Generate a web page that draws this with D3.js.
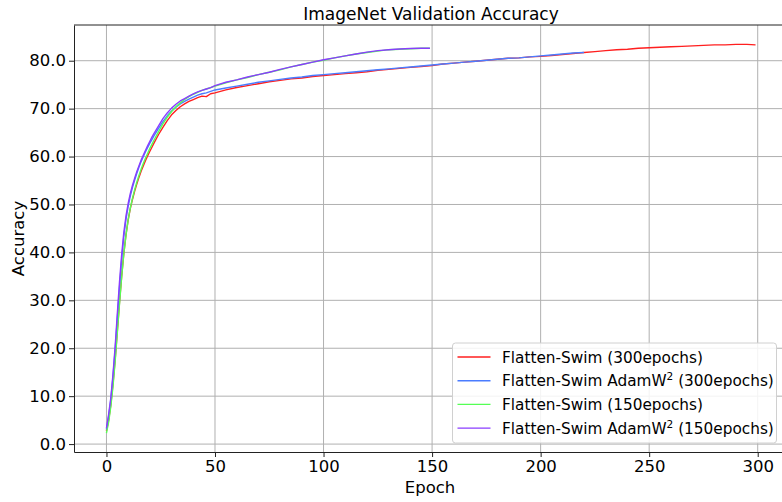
<!DOCTYPE html>
<html>
<head>
<meta charset="utf-8">
<script src="https://cdn.jsdelivr.net/npm/d3@7"></script>
<style>
  body { margin: 0; background: #fff; }
  svg { display: block; overflow: hidden; font-family: "DejaVu Sans", sans-serif; }
</style>
</head>
<body>
<div id="chart"></div>
<script>
const dense = [0,1,2,3,4,5,6,7,8,9,10,11,12,13,14,15,16,17,18,19,20,21,22,
  24,26,28,30,32,34,36,38,40,42,44,46,48,50];
const epochs300 = dense.concat([55,60,65,70,75,80,85,90,95,100,105,110,115,120,125,130,135,140,145,150,
  155,160,165,170,175,180,185,190,195,200,205,210,215,220,225,230,235,240,245,250,
  255,260,265,270,275,280,285,290,295,299]);
const epochsAdamW300 = dense.concat([55,60,65,70,75,80,85,90,95,100,105,110,115,120,125,130,135,140,145,150,
  155,160,165,170,175,180,185,190,195,200,205,210,215,220]);
const epochs150 = dense.concat([55,60,65,70,75,80,85,90,95,100,105,110,115,120,125,130,135,140,145,149]);

const swim300 = [2.7,5.0,8.2,12.5,17.6,23.5,29.5,35.0,39.8,43.7,46.8,49.2,51.1,52.8,54.3,55.7,57.0,58.1,59.2,60.2,61.1,62.0,62.9,
  64.6,66.1,67.5,68.7,69.6,70.4,71.0,71.5,71.9,72.3,72.6,72.5,73.1,73.3,
  73.9,74.4,74.8,75.2,75.6,75.9,76.2,76.4,76.7,76.9,
  77.1,77.3,77.5,77.7,78.0,78.2,78.4,78.6,78.8,79.0,
  79.3,79.5,79.7,79.9,80.1,80.3,80.5,80.6,80.8,80.9,
  81.1,81.3,81.5,81.7,81.9,82.1,82.3,82.4,82.6,82.7,
  82.8,82.9,83.0,83.1,83.2,83.3,83.3,83.4,83.4,83.3];
const adamw300 = [3.0,5.8,9.2,14.0,19.6,26.2,32.6,38.5,43.3,46.9,49.6,51.8,53.6,55.1,56.5,57.8,59.0,60.0,61.0,61.9,62.8,63.6,64.4,
  65.9,67.3,68.5,69.5,70.3,71.0,71.5,72.0,72.4,72.8,73.1,73.3,73.6,73.9,
  74.3,74.7,75.1,75.5,75.8,76.1,76.4,76.6,76.9,77.1,
  77.3,77.5,77.7,77.9,78.1,78.3,78.5,78.7,78.9,79.1,
  79.3,79.5,79.7,79.9,80.1,80.3,80.5,80.6,80.8,81.0,
  81.2,81.4,81.6,81.7];
const swim150 = [2.3,4.6,7.8,12.0,17.2,23.2,29.2,34.8,39.7,43.6,46.8,49.3,51.3,53.1,54.7,56.1,57.4,58.6,59.7,60.7,61.7,62.6,63.5,
  65.2,66.8,68.2,69.4,70.4,71.2,71.9,72.5,73.0,73.4,73.8,74.1,74.4,74.7,
  75.4,76.0,76.5,77.1,77.6,78.1,78.7,79.2,79.7,80.1,
  80.6,81.0,81.4,81.7,82.0,82.3,82.4,82.5,82.6,82.6];
const adamw150 = [3.3,6.2,9.6,14.5,20.3,27.2,33.8,39.5,44.2,47.6,50.2,52.3,54.0,55.5,56.9,58.1,59.3,60.3,61.3,62.3,63.2,64.1,64.9,
  66.4,67.9,69.1,70.1,70.9,71.6,72.1,72.6,73.1,73.5,73.8,74.1,74.4,74.8,
  75.5,76.0,76.6,77.1,77.6,78.2,78.7,79.2,79.7,80.2,
  80.6,81.0,81.4,81.8,82.1,82.3,82.45,82.55,82.6,82.6];

const xTicks = [0, 50, 100, 150, 200, 250, 300];
const yTicks = [0, 10, 20, 30, 40, 50, 60, 70, 80];

const series = [
  { name: "Flatten-Swim", sup: "", tail: " (300epochs)", x: epochs300, y: swim300, color: "#ff1f1f" },
  { name: "Flatten-Swim AdamW", sup: "2", tail: " (300epochs)", x: epochsAdamW300, y: adamw300, color: "#4a7cff" },
  { name: "Flatten-Swim", sup: "", tail: " (150epochs)", x: epochs150, y: swim150, color: "#55ff55" },
  { name: "Flatten-Swim AdamW", sup: "2", tail: " (150epochs)", x: epochs150, y: adamw150, color: "#8a3cff" }
];

const svgWidth = 782, svgHeight = 502;
const margin = { top: 25, left: 74 };
const width = 714, height = 427;   // right edge runs past the picture, as in the original

const svg = d3.select("#chart").append("svg")
  .attr("width", svgWidth)
  .attr("height", svgHeight);

const g = svg.append("g")
  .attr("transform", "translate(" + margin.left + "," + margin.top + ")");

const x = d3.scaleLinear().domain([-14.95, 313.95]).range([0, width]);
const y = d3.scaleLinear().domain([-1.65, 87.45]).range([height, 0]);

// grid
g.append("g").selectAll("line").data(xTicks).join("line")
  .attr("x1", d => x(d)).attr("x2", d => x(d))
  .attr("y1", 0).attr("y2", height)
  .attr("stroke", "#b0b0b0").attr("stroke-width", 1);
g.append("g").selectAll("line").data(yTicks).join("line")
  .attr("x1", 0).attr("x2", width)
  .attr("y1", d => y(d)).attr("y2", d => y(d))
  .attr("stroke", "#b0b0b0").attr("stroke-width", 1);

// curves
const line = d3.line()
  .x(d => x(d[0]))
  .y(d => y(d[1]));

series.forEach(s => {
  g.append("path")
    .datum(d3.zip(s.x, s.y))
    .attr("fill", "none")
    .attr("stroke", s.color)
    .attr("stroke-width", 1.4)
    .attr("stroke-linejoin", "round")
    .attr("d", line);
});

// axes
const xAxis = g.append("g")
  .attr("transform", "translate(0," + height + ")")
  .call(d3.axisBottom(x).tickValues(xTicks).tickSize(5).tickSizeOuter(0).tickPadding(3));
const yAxis = g.append("g")
  .call(d3.axisLeft(y).tickValues(yTicks).tickFormat(d3.format(".1f")).tickSize(5).tickSizeOuter(0).tickPadding(3));

[xAxis, yAxis].forEach(a => {
  a.selectAll("text").attr("font-family", "DejaVu Sans").attr("font-size", 16.5).attr("fill", "#000");
  a.selectAll("line").attr("stroke", "#222");
  a.select(".domain").attr("stroke", "#222");
});

// top and right spines
g.append("line").attr("x1", 0).attr("x2", width).attr("y1", 0).attr("y2", 0).attr("stroke", "#222");
g.append("line").attr("x1", width).attr("x2", width).attr("y1", 0).attr("y2", height).attr("stroke", "#222");

// labels
svg.append("text")
  .attr("x", margin.left + width / 2).attr("y", 20)
  .attr("text-anchor", "middle").attr("font-size", 17)
  .text("ImageNet Validation Accuracy");
svg.append("text")
  .attr("x", margin.left + width / 2 - 1).attr("y", 493)
  .attr("text-anchor", "middle").attr("font-size", 16.5)
  .text("Epoch");
svg.append("text")
  .attr("transform", "translate(24," + (margin.top + height / 2) + ") rotate(-90)")
  .attr("text-anchor", "middle").attr("font-size", 16.5)
  .text("Accuracy");

// legend
const legend = svg.append("g").attr("transform", "translate(452.5,343)");
legend.append("rect")
  .attr("width", 324).attr("height", 100).attr("rx", 3)
  .attr("fill", "#fff").attr("fill-opacity", 0.85)
  .attr("stroke", "#d0d0d0");
const rows = legend.selectAll("g.row").data(series).join("g")
  .attr("class", "row")
  .attr("transform", (d, i) => "translate(0," + (14 + i * 23.7) + ")");
rows.append("line")
  .attr("x1", 5).attr("x2", 38)
  .attr("stroke", d => d.color).attr("stroke-width", 1.4);
const txt = rows.append("text")
  .attr("x", 49.5).attr("dy", "0.36em")
  .attr("font-size", 15.3);
txt.append("tspan").text(d => d.name);
txt.filter(d => d.sup).append("tspan")
  .attr("baseline-shift", "super").attr("font-size", 10.5).text(d => d.sup);
txt.append("tspan").text(d => d.tail);
</script>
</body>
</html>
